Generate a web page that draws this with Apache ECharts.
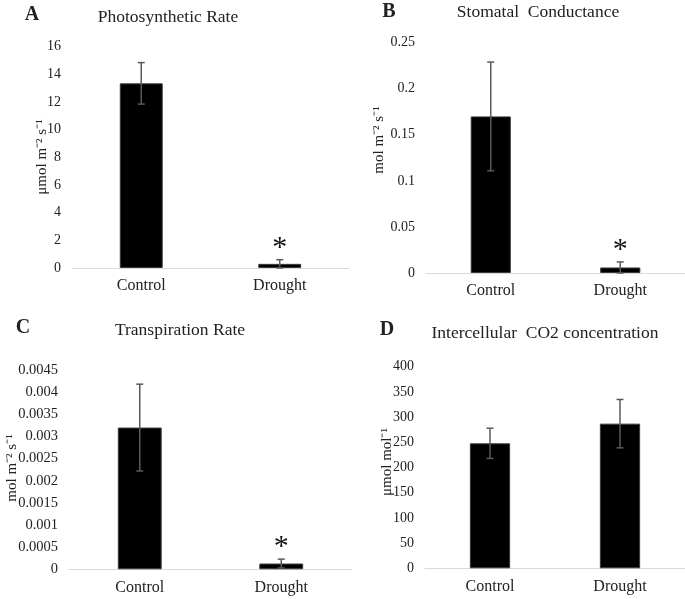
<!DOCTYPE html>
<html><head><meta charset="utf-8">
<script src="https://cdn.jsdelivr.net/npm/echarts@6/dist/echarts.min.js"></script>
<style>html,body{margin:0;padding:0;background:#fff}#c{width:685px;height:599px}</style>
</head><body><div id="c"></div>
<script>
const categories = ['Control', 'Drought'];
const photoMean = [13.35, 0.3];
const photoErr = [1.5, 0.3];
const photoSig = [false, true];
const stomMean = [0.17, 0.006];
const stomErr = [0.059, 0.006];
const stomSig = [false, true];
const transMean = [0.0032, 0.00013];
const transErr = [0.00098, 0.0001];
const transSig = [false, true];
const ciMean = [248, 287];
const ciErr = [30, 48];
const ciSig = [false, false];

const panels = [
  {mean: photoMean, err: photoErr, sig: photoSig, max: 16, interval: 2, grid: {left: 72, top: 46.7, width: 277, height: 221.3}, labelSize: 14},
  {mean: stomMean, err: stomErr, sig: stomSig, max: 0.25, interval: 0.05, grid: {left: 426, top: 42.7, width: 300, height: 230.3}, labelSize: 14},
  {mean: transMean, err: transErr, sig: transSig, max: 0.0045, interval: 0.0005, grid: {left: 69, top: 370, width: 283, height: 199.3}, labelSize: 14.5},
  {mean: ciMean, err: ciErr, sig: ciSig, max: 400, interval: 50, grid: {left: 425, top: 366.7, width: 294, height: 201.6}, labelSize: 14}
];

const FONT = '"Liberation Serif", "Times New Roman", serif';
const chart = echarts.init(document.getElementById('c'), null, {renderer: 'canvas'});

const grid = [], xAxis = [], yAxis = [], series = [];
panels.forEach((p, i) => {
  grid.push(Object.assign({containLabel: false}, p.grid));
  xAxis.push({
    type: 'category', gridIndex: i, data: categories,
    axisLine: {lineStyle: {color: '#d9d9d9', width: 1}},
    axisTick: {show: false},
    axisLabel: {color: '#222', fontFamily: FONT, fontSize: 16, margin: 10}
  });
  yAxis.push({
    type: 'value', gridIndex: i, min: 0, max: p.max, interval: p.interval,
    axisLine: {show: false}, axisTick: {show: false}, splitLine: {show: false},
    axisLabel: {color: '#222', fontFamily: FONT, fontSize: p.labelSize, margin: 11}
  });
  series.push({
    type: 'bar', xAxisIndex: i, yAxisIndex: i, data: p.mean, barWidth: '31%',
    itemStyle: {color: '#000', borderColor: '#3a3a3a', borderWidth: 1}, silent: true
  });
  series.push({
    type: 'custom', xAxisIndex: i, yAxisIndex: i, z: 10, silent: true,
    data: p.mean.map((m, k) => [k, m, p.err[k], p.sig[k] ? 1 : 0]),
    renderItem: function (params, api) {
      const x = api.value(0), m = api.value(1), e = api.value(2), s = api.value(3);
      const top = api.coord([x, m + e]);
      const bot = api.coord([x, Math.max(m - e, 0)]);
      const hw = 3.5;
      const st = {stroke: '#5a5a5a', lineWidth: 1.5};
      const children = [
        {type: 'line', shape: {x1: top[0], y1: top[1], x2: bot[0], y2: bot[1]}, style: st},
        {type: 'line', shape: {x1: top[0] - hw, y1: top[1], x2: top[0] + hw, y2: top[1]}, style: st},
        {type: 'line', shape: {x1: bot[0] - hw, y1: bot[1], x2: bot[0] + hw, y2: bot[1]}, style: st}
      ];
      if (s) {
        children.push({type: 'text', style: {text: '*', x: top[0], y: top[1] + 3, fill: '#111',
          font: '30px ' + FONT, textAlign: 'center', textVerticalAlign: 'bottom'}});
      }
      return {type: 'group', children: children};
    }
  });
});

function txt(t, x, y, size, bold, rot) {
  return {type: 'text', x: x, y: y, rotation: rot || 0,
    style: {text: t, fill: '#222', font: (bold ? 'bold ' : '') + size + 'px ' + FONT,
      textAlign: 'center', textVerticalAlign: 'middle'}};
}
const R = Math.PI / 2;
const graphic = [
  txt('A', 32, 15, 20, true), txt('Photosynthetic Rate', 168, 17, 17.5, false),
  txt('B', 389, 12, 20, true), txt('Stomatal  Conductance', 538, 12, 17.5, false),
  txt('C', 23, 328, 20, true), txt('Transpiration Rate', 180, 330, 17.5, false),
  txt('D', 387, 330, 20, true), txt('Intercellular  CO2 concentration', 545, 333, 17.5, false),
  txt('\u03bcmol m\u207b\u00b2 s\u207b\u00b9', 42, 157, 15, false, R),
  txt('mol m\u207b\u00b2 s\u207b\u00b9', 379, 140, 15, false, R),
  txt('mol m\u207b\u00b2 s\u207b\u00b9', 12, 468, 15, false, R),
  txt('\u03bcmol mol\u207b\u00b9', 387, 462, 15, false, R)
];

chart.setOption({animation: false, backgroundColor: '#fff', grid, xAxis, yAxis, series, graphic});
</script></body></html>
